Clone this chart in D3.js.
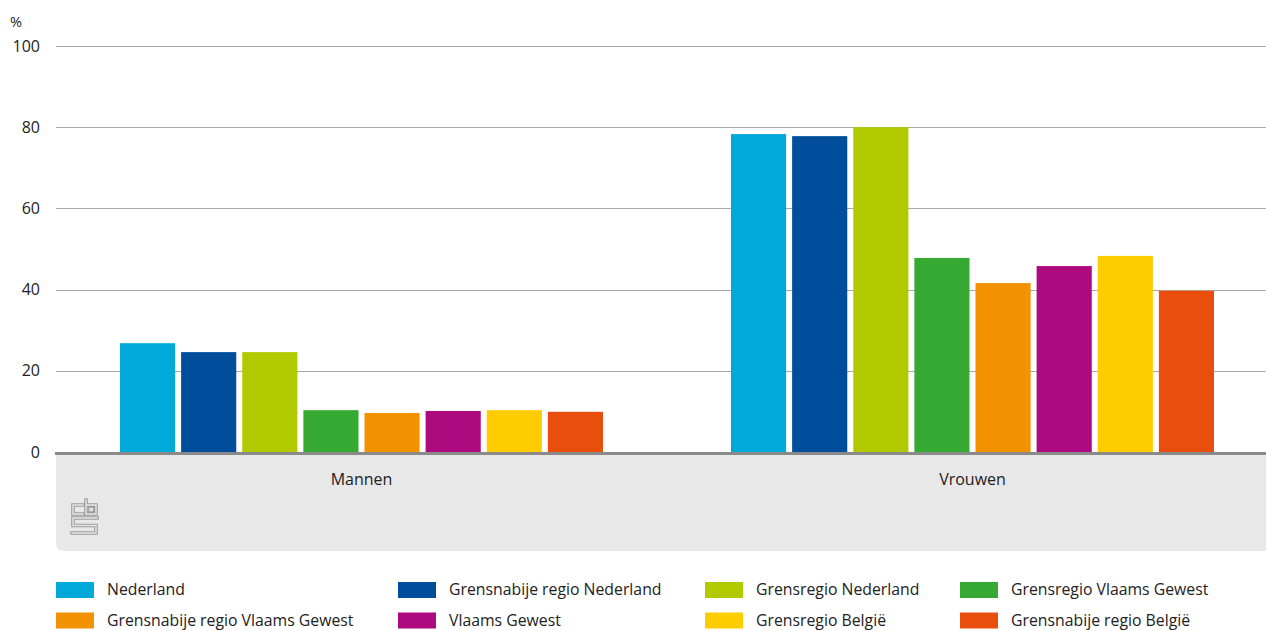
<!DOCTYPE html>
<html>
<head>
<meta charset="utf-8">
<script src="https://cdn.jsdelivr.net/npm/d3@7"></script>
<style>
  html, body { margin: 0; padding: 0; background: #fff; }
  svg text { font-family: "Open Sans", "Noto Sans", sans-serif; fill: #222; }
</style>
</head>
<body>
<svg id="chart" width="1266" height="631"></svg>
<script>
// Groups on the x axis
const groups = ["Mannen", "Vrouwen"];

// Regions (series) in drawing order
const series = [
  "Nederland",
  "Grensnabije regio Nederland",
  "Grensregio Nederland",
  "Grensregio Vlaams Gewest",
  "Grensnabije regio Vlaams Gewest",
  "Vlaams Gewest",
  "Grensregio België",
  "Grensnabije regio België"
];

// Percentages per region, for Mannen and Vrouwen
const mannen  = [26.8, 24.6, 24.6, 10.3, 9.6, 10.1, 10.3, 9.9];
const vrouwen = [78.3, 77.8, 80.0, 47.8, 41.6, 45.8, 48.3, 39.7];

const colors = ["#00a9d9", "#004d9b", "#b1ca00", "#36a933", "#f39200", "#ae0a80", "#ffcc00", "#e94e0c"];

const yTicks = [0, 20, 40, 60, 80, 100];

const values = { Mannen: mannen, Vrouwen: vrouwen };

const svg = d3.select("#chart");
const plotLeft = 56, plotRight = 1266;
const y0 = 452, y100 = 46;

const y = d3.scaleLinear().domain([0, 100]).range([y0, y100]);
const x0 = d3.scaleBand().domain(groups).range([plotLeft, 1278]).padding(0);
const x1 = d3.scaleBand().domain(series).range([64, 547]).paddingInner(0.098).paddingOuter(0);
const color = d3.scaleOrdinal().domain(series).range(colors);

// Grey footer band under the axis
svg.append("path")
  .attr("d", `M${plotLeft},${y0} H${plotRight} V551 H${plotLeft + 8} Q${plotLeft},551 ${plotLeft},543 Z`)
  .attr("fill", "#e8e8e8");

// Gridlines and tick labels
const yAxis = d3.axisLeft(y).tickValues(yTicks).tickSize(0).tickPadding(0);
const gAxis = svg.append("g").attr("transform", `translate(40,0)`).call(yAxis);
gAxis.select(".domain").remove();
gAxis.selectAll("text")
  .attr("x", 0)
  .attr("dy", "0.32em")
  .style("font-size", "16px")
  .style("font-family", "'Open Sans', sans-serif")
  .attr("fill", "#222");

svg.append("g")
  .selectAll("line")
  .data(yTicks.filter(d => d > 0))
  .join("line")
  .attr("x1", plotLeft).attr("x2", plotRight)
  .attr("y1", d => Math.round(y(d)) + 0.5).attr("y2", d => Math.round(y(d)) + 0.5)
  .attr("stroke", "#a9a9a9").attr("stroke-width", 1.2);

svg.append("text")
  .attr("x", 10).attr("y", 22).attr("dy", "0.32em")
  .style("font-size", "14.5px")
  .text("%");

// Bars
const gGroups = svg.append("g")
  .selectAll("g")
  .data(groups)
  .join("g")
  .attr("transform", g => `translate(${x0(g)},0)`);

gGroups.selectAll("rect")
  .data(g => series.map((s, i) => ({ s, v: values[g][i] })))
  .join("rect")
  .attr("x", d => x1(d.s))
  .attr("width", x1.bandwidth())
  .attr("y", d => y(d.v))
  .attr("height", d => y0 - y(d.v))
  .attr("fill", d => color(d.s));

// Baseline
svg.append("line")
  .attr("x1", plotLeft - 1).attr("x2", plotRight)
  .attr("y1", y0 + 1.5).attr("y2", y0 + 1.5)
  .attr("stroke", "#8a8a8a").attr("stroke-width", 3);

// Group labels
svg.append("g")
  .selectAll("text")
  .data(groups)
  .join("text")
  .attr("x", g => x0(g) + 64 + (547 - 64) / 2)
  .attr("y", 480).attr("dy", "0.32em")
  .attr("text-anchor", "middle")
  .style("font-size", "16px")
  .text(g => g);

// cbs logo
const logo = svg.append("g").attr("transform", "translate(71,499)");
const logoPath = "M12,6 H2 V15 H12 M15,1 V15 H25 V6 H15 M19,9.5 H21.5 V11.5 H19 Z M26,19 H2 V26.5 H25 V34 H1";
logo.append("path").attr("d", logoPath)
  .attr("fill", "none").attr("stroke", "#9a9a9a").attr("stroke-width", 3.6)
  .attr("stroke-linejoin", "miter").attr("stroke-linecap", "square");
logo.append("path").attr("d", logoPath)
  .attr("fill", "none").attr("stroke", "#e8e8e8").attr("stroke-width", 1.4)
  .attr("stroke-linejoin", "miter").attr("stroke-linecap", "square");

// Legend
const legendCols = [56, 398, 705, 960];
const legendRows = [590, 620.5];
const legend = svg.append("g")
  .selectAll("g")
  .data(series)
  .join("g")
  .attr("transform", (s, i) => `translate(${legendCols[i % 4]},${legendRows[Math.floor(i / 4)]})`);

legend.append("rect")
  .attr("x", 0).attr("y", -8)
  .attr("width", 38).attr("height", 16)
  .attr("fill", s => color(s));

legend.append("text")
  .attr("x", 51).attr("y", 0).attr("dy", "0.33em")
  .style("font-size", "15.8px")
  .text(s => s);
</script>
</body>
</html>
